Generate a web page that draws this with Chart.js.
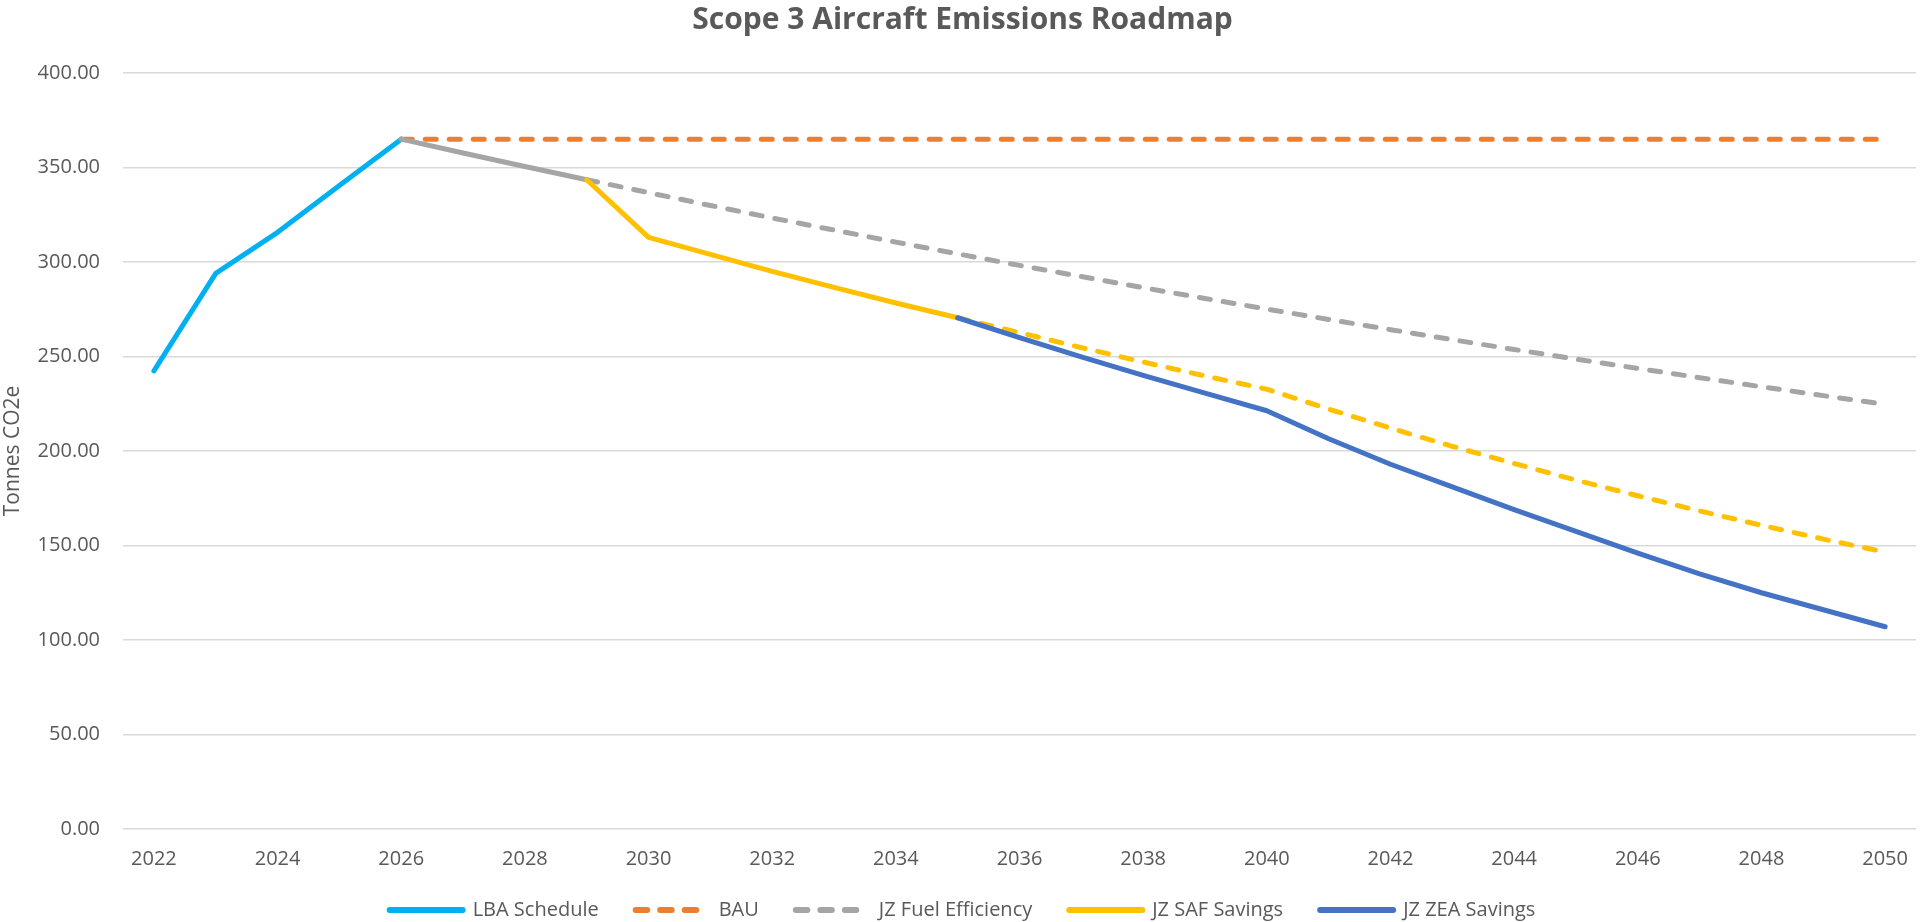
<!DOCTYPE html>
<html>
<head>
<meta charset="utf-8">
<title>Scope 3 Aircraft Emissions Roadmap</title>
<script src="https://cdn.jsdelivr.net/npm/chart.js@4.4.1/dist/chart.umd.min.js"></script>
<style>
    html, body { margin: 0; padding: 0; background: #ffffff; }
    #wrap { width: 1926px; height: 922px; position: relative; }
</style>
</head>
<body>
<div id="wrap"><canvas id="roadmap"></canvas></div>
<script>
// Data
const years = ["2022", "2023", "2024", "2025", "2026", "2027", "2028", "2029", "2030", "2031",
    "2032", "2033", "2034", "2035", "2036", "2037", "2038", "2039", "2040", "2041",
    "2042", "2043", "2044", "2045", "2046", "2047", "2048", "2049", "2050"];

const lbaSchedule = [242.4, 294, 315.7, 340.5, 365];

const bau = [null, null, null, null,
    365, 365, 365, 365, 365, 365, 365, 365, 365, 365, 365, 365, 365,
    365, 365, 365, 365, 365, 365, 365, 365, 365, 365, 365, 365];

const fuelEfficiency = [null, null, null, null,
    365, 357.7, 350.5, 343.5, 336.7, 329.9, 323.3, 316.9, 310.5, 304.3,
    298.2, 292.3, 286.4, 280.7, 275.1, 269.6, 264.2, 258.9, 253.7, 248.6,
    243.7, 238.8, 234.0, 229.3, 224.7];

const safSavings = [null, null, null, null, null, null, null,
    343.5, 313, 304, 295, 286.6, 278.3, 270.5,
    262.6, 254.7, 247.1, 239.7, 232.7,
    222.2, 212.1, 202.5, 193.4, 184.6, 176.3, 168.3, 160.7, 153.4, 146.5];

const zeaSavings = [null, null, null, null, null, null, null, null, null, null, null, null, null,
    270.5, 260, 249.8, 240, 230.6, 221.3,
    206.5, 193, 181, 169, 157.5, 146, 135, 125, 116, 107];

const yTicks = [0, 50, 100, 150, 200, 250, 300, 350, 400];

// index of the year where a series turns from plan into projection (dashed)
const fuelDashFrom = years.indexOf("2029");
const safDashFrom = years.indexOf("2035");

const dash = [11, 13];
const legendDash = [11.5, 13];
const textGrey = "#595959";
Chart.defaults.font.family = "'Open Sans', 'DejaVu Sans', sans-serif";
Chart.defaults.color = textGrey;

const roadmap = document.getElementById("roadmap");

new Chart(roadmap, {
    type: "line",
    data: {
        labels: years,
        datasets: [
            {
                label: "LBA Schedule",
                data: lbaSchedule,
                borderColor: "#00B0F0",
                order: 5
            },
            {
                label: "BAU",
                data: bau,
                borderColor: "#ED7D31",
                borderDash: dash,
                order: 4
            },
            {
                label: "JZ Fuel Efficiency",
                data: fuelEfficiency,
                borderColor: "#A5A5A5",
                borderDash: dash,
                segment: {
                    borderDash: ctx => ctx.p0DataIndex < fuelDashFrom ? [] : dash
                },
                order: 3
            },
            {
                label: "JZ SAF Savings",
                data: safSavings,
                borderColor: "#FFC000",
                segment: {
                    borderDash: ctx => ctx.p0DataIndex >= safDashFrom ? dash : []
                },
                order: 2
            },
            {
                label: "JZ ZEA Savings",
                data: zeaSavings,
                borderColor: "#4472C4",
                order: 1
            }
        ]
    },
    options: {
        responsive: true,
        maintainAspectRatio: false,
        animation: false,
        layout: {
            padding: { left: 0, right: 1, top: 0, bottom: -8 }
        },
        elements: {
            line: {
                borderWidth: 5,
                borderCapStyle: "round",
                borderJoinStyle: "round",
                tension: 0,
                fill: false
            },
            point: {
                radius: 0,
                hoverRadius: 0
            }
        },
        plugins: {
            title: {
                display: true,
                text: "Scope 3 Aircraft Emissions Roadmap",
                color: textGrey,
                font: { size: 30, weight: "bold" },
                padding: { top: 2, bottom: 35 }
            },
            legend: {
                display: true,
                position: "bottom",
                labels: {
                    color: textGrey,
                    font: { size: 20 },
                    usePointStyle: true,
                    pointStyleWidth: 73,
                    padding: 27,
                    // legend shows the dashed style only for BAU and fuel efficiency
                    generateLabels: chart => chart.data.datasets.map((ds, i, all) => ({
                        text: i < all.length - 1 ? ds.label + "\u2002" : ds.label,
                        datasetIndex: i,
                        fillStyle: ds.borderColor,
                        strokeStyle: ds.borderColor,
                        fontColor: textGrey,
                        lineWidth: 6,
                        lineCap: "round",
                        lineDash: ds.borderDash ? legendDash : [],
                        pointStyle: "line",
                        hidden: false
                    }))
                }
            },
            tooltip: { enabled: false }
        },
        scales: {
            x: {
                offset: true,
                afterFit: scale => {
                    scale.height = 44;
                },
                grid: { display: false, drawTicks: false },
                border: { display: false },
                ticks: {
                    autoSkip: false,
                    maxRotation: 0,
                    padding: 18,
                    font: { size: 20 },
                    callback: (v, i) => i % 2 === 0 ? years[i] : ""
                }
            },
            y: {
                min: 0,
                max: 400,
                afterBuildTicks: scale => {
                    scale.ticks = yTicks.map(v => ({ value: v }));
                },
                afterFit: scale => {
                    scale.width = 123;
                },
                grid: { color: "#D9D9D9", lineWidth: 1.5, drawTicks: false },
                border: { display: false },
                ticks: {
                    padding: 23,
                    font: { size: 20 },
                    callback: v => v.toFixed(2)
                },
                title: {
                    display: true,
                    text: "Tonnes CO2e",
                    color: textGrey,
                    font: { size: 21 },
                    padding: { top: 0, bottom: 0 }
                }
            }
        }
    }
});
</script>
</body>
</html>
